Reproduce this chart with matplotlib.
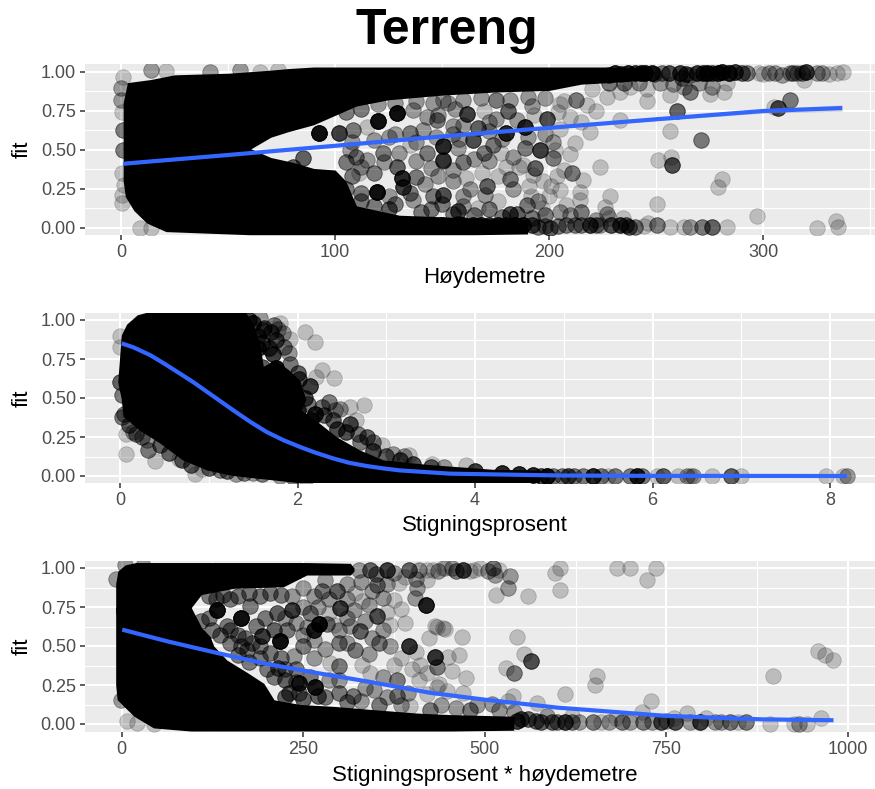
import matplotlib
matplotlib.use("Agg")
import numpy as np
import matplotlib.pyplot as plt

plt.rcParams["font.family"] = ["Liberation Sans", "DejaVu Sans"]

W, H = 875, 789

# --- panel 1: Hoydemetre ---
x_ticks1 = [0, 100, 200, 300]
x_minor1 = [50, 150, 250, 350]
line1_x = [1, 50, 100, 150, 200, 250, 300, 337]
line1_y = [0.41, 0.466, 0.525, 0.585, 0.64, 0.695, 0.748, 0.767]
band1_se = [0.008, 0.005, 0.004, 0.004, 0.006, 0.009, 0.014, 0.02]
# black cloud: top band and bottom band
top1_x = [1, 3, 14, 25, 50, 60, 70, 78, 90, 100, 110, 125, 150, 175, 200, 215, 228, 245]
top1_hi = [0.8, 0.93, 0.95, 0.98, 0.99, 1.0, 1.01, 1.02, 1.03, 1.03, 1.03, 1.03, 1.03, 1.03, 1.03, 1.03, 1.03, 1.02]
top1_lo = [0.5, 0.5, 0.5, 0.5, 0.5, 0.5, 0.58, 0.615, 0.66, 0.72, 0.78, 0.82, 0.85, 0.87, 0.88, 0.92, 0.93, 0.95]
bot1_x = [1, 2, 6, 12, 21, 60, 70, 80, 90, 100, 105, 110, 130, 150, 165, 190]
bot1_hi = [0.51, 0.51, 0.51, 0.51, 0.51, 0.51, 0.45, 0.42, 0.38, 0.37, 0.3, 0.14, 0.08, 0.07, 0.06, 0.05]
bot1_lo = [0.3, 0.2, 0.11, 0.03, -0.025, -0.045, -0.045, -0.045, -0.045, -0.045, -0.045, -0.045, -0.045, -0.045, -0.045, -0.04]
# (x, y, overlap count)
pts1 = [
    (337.5, 0.996, 1), (334.5, 0.99, 1), (327.5, 0.99, 2), (320, 1.0, 6), (319, 0.95, 1), (316, 0.99, 2),
    (312.6, 0.99, 2), (309, 0.98, 2), (305.6, 0.99, 2), (298, 0.99, 1), (292.6, 0.99, 3), (287, 0.995, 6),
    (281, 0.995, 8), (276, 0.99, 5), (272, 0.99, 6), (266, 0.98, 2), (261, 0.99, 6), (253, 0.99, 3),
    (249, 0.985, 3), (245, 0.99, 8), (240, 0.99, 6), (233.6, 0.985, 6), (228, 0.98, 4), (312.6, 0.82, 3),
    (307, 0.77, 5), (305, 0.775, 1), (282, 0.87, 1), (275, 0.86, 1), (266, 0.87, 3), (263, 0.9, 2),
    (256.6, 0.85, 1), (245.7, 0.89, 1), (246, 0.81, 1), (260, 0.75, 4), (233, 0.69, 1), (256.6, 0.62, 1),
    (271, 0.56, 3), (219, 0.615, 1), (212, 0.545, 1), (202, 0.55, 2), (202, 0.445, 3), (251, 0.434, 1),
    (257, 0.455, 1), (257.5, 0.40, 5), (224, 0.39, 1), (281, 0.31, 1), (279, 0.26, 1), (228.5, 0.2, 1),
    (250.6, 0.15, 1), (297, 0.075, 1), (334, 0.04, 1), (325, 0.0, 1), (335, 0.005, 1), (283, 0.005, 1),
    (276, 0.005, 4), (271.5, 0.005, 3), (266, 0.005, 2), (263, 0.005, 1), (256.6, 0.005, 1), (250.7, 0.02, 3),
    (246.4, 0.03, 1), (244.6, 0.01, 1), (237.6, 0.005, 4), (233, 0.015, 6), (234.5, 0.06, 1), (219, 0.015, 6),
    (226, 0.135, 1), (227, 0.09, 2), (224, 0.02, 2), (212, 0.02, 3), (208, 0.02, 3), (200.5, 0.0, 4),
    (195, 0.005, 3), (188, 0.02, 8), (180, 0.02, 6), (172, 0.02, 6), (164.7, 0.02, 8), (157.7, 0.025, 6),
    (195.8, 0.5, 6), (189, 0.647, 8), (199, 0.695, 5), (180, 0.605, 8), (167, 0.64, 4), (161.8, 0.73, 6),
    (164.7, 0.56, 5), (150.6, 0.525, 8), (175, 0.82, 3), (181, 0.745, 4), (169.5, 0.745, 1), (212.8, 0.82, 3),
    (217.6, 0.785, 1), (206.8, 0.81, 1), (227, 0.84, 1), (233, 0.87, 1), (220, 0.89, 1), (157.7, 0.51, 2),
    (174, 0.53, 3), (177.8, 0.477, 1), (169.4, 0.477, 3), (189, 0.51, 3), (150.6, 0.43, 3), (193.6, 0.38, 4),
    (185.8, 0.39, 1), (180, 0.39, 1), (206.8, 0.37, 1), (210.7, 0.35, 3), (216, 0.305, 1), (203.7, 0.33, 1),
    (201, 0.27, 1), (214.7, 0.23, 1), (214.7, 0.18, 1), (200, 0.205, 1), (207.8, 0.145, 1), (190.8, 0.267, 1),
    (192.7, 0.34, 1), (181.7, 0.315, 3), (171, 0.27, 4), (161, 0.316, 1), (168.6, 0.35, 1), (150.6, 0.21, 5),
    (157.7, 0.11, 5), (181.7, 0.09, 5), (185, 0.09, 4), (166.8, 0.124, 1), (189.7, 0.145, 3), (196.6, 0.124, 1),
    (191.7, 0.2, 1), (215, 0.1, 3), (120, 0.684, 12), (129, 0.733, 12), (119.5, 0.23, 12), (131.5, 0.316, 8),
    (132, 0.263, 6), (92.7, 0.605, 12), (102, 0.605, 6), (141, 0.626, 2), (115, 0.647, 1), (108.6, 0.626, 3),
    (122.6, 0.476, 3), (128.8, 0.39, 4), (115, 0.434, 2), (111, 0.348, 1), (118, 0.348, 3), (138, 0.327, 3),
    (146, 0.2, 3), (142.8, 0.476, 3), (135, 0.605, 3), (147.5, 0.69, 3), (136.6, 0.754, 2), (150.6, 0.82, 2),
    (150.6, 0.434, 4), (142.8, 0.71, 2), (130, 0.476, 2), (136.6, 0.177, 2), (107, 0.5, 2), (85, 0.444, 4),
    (80.5, 0.39, 4), (125, 0.12, 4), (145, 0.12, 3), (155, 0.3, 2), (160, 0.42, 3), (155, 0.65, 2),
    (138, 0.55, 2), (125, 0.58, 2), (145, 0.38, 2), (128, 0.15, 3), (112, 0.22, 3), (160, 0.2, 2),
    (1, 0.968, 1), (0, 0.893, 2), (0, 0.818, 2), (0.3, 0.744, 1), (1, 0.626, 3), (1, 0.498, 3),
    (0.3, 0.348, 1), (1.4, 0.274, 1), (0.3, 0.21, 1), (0.3, 0.156, 1), (9, 0, 1), (14, 0, 1),
    (14, 1.01, 2), (21, 1.006, 1), (55.6, 1.01, 2), (65, 1.0, 1), (73.5, 1.01, 1), (41.6, 1.0, 2),
]
extra1 = [
    (105, 0.74, 3), (112, 0.76, 3), (120, 0.79, 2), (128, 0.8, 2), (138, 0.81, 2), (146, 0.8, 2), (153, 0.8, 2),
    (160, 0.82, 2), (168, 0.83, 2), (182, 0.82, 2), (190, 0.84, 2), (198, 0.83, 2), (108, 0.55, 2), (118, 0.56, 2),
    (128, 0.6, 2), (135, 0.53, 1), (147, 0.58, 2), (155, 0.6, 2), (160, 0.66, 2), (172, 0.68, 2), (185, 0.69, 2),
    (193, 0.72, 1), (204, 0.74, 1), (210, 0.71, 1), (110, 0.45, 3), (105, 0.42, 3), (112, 0.39, 2), (108, 0.33, 3),
    (105, 0.25, 3), (112, 0.17, 3), (118, 0.14, 3), (125, 0.2, 2), (135, 0.22, 3), (142, 0.28, 2), (148, 0.33, 2),
    (155, 0.37, 2), (163, 0.25, 2), (170, 0.21, 2), (176, 0.17, 1), (150, 0.15, 3), (160, 0.14, 2), (172, 0.12, 3),
    (140, 0.1, 3), (155, 0.09, 3), (138, 0.43, 2), (123, 0.42, 2), (172, 0.43, 2), (183, 0.45, 2), (188, 0.4, 1),
    (165, 0.44, 2), (178, 0.57, 2), (190, 0.58, 2), (198, 0.6, 2), (205, 0.63, 1), (172, 0.62, 2), (158, 0.57, 2),
    (148, 0.72, 2), (156, 0.76, 2), (175, 0.7, 2), (192, 0.78, 2), (205, 0.79, 1), (222, 0.75, 1), (215, 0.68, 1),
    (203, 0.5, 1), (210, 0.47, 1), (183, 0.25, 2), (176, 0.33, 1), (197, 0.3, 1), (205, 0.24, 1), (195, 0.17, 2),
    (205, 0.1, 2), (198, 0.08, 3), (210, 0.08, 2), (165, 0.08, 3), (178, 0.07, 3), (192, 0.06, 3), (222, 0.05, 2),
    (228, 0.06, 1), (238, 0.9, 1), (242, 0.93, 2), (252, 0.93, 2), (258, 0.92, 2), (270, 0.93, 2), (276, 0.9, 2),
    (283, 0.93, 1), (262, 0.96, 3), (228, 0.93, 3), (235, 0.93, 3), (231, 0.99, 8), (237, 0.99, 8), (243, 0.99, 8),
    (248, 0.99, 8), (256, 0.99, 5), (264, 0.985, 5), (269, 0.99, 6), (274, 0.99, 8), (279, 0.99, 8), (284, 0.99, 8),
    (290, 0.99, 4), (303, 0.99, 2), (314, 0.99, 3), (318, 0.99, 3), (325, 0.99, 2), (331, 0.985, 1), (300, 0.985, 1),
    (150, 0.02, 8), (160, 0.02, 8), (168, 0.02, 8), (176, 0.02, 8), (184, 0.02, 8), (192, 0.02, 5), (198, 0.01, 3),
    (204, 0.01, 3), (215, 0.015, 3), (222, 0.015, 3), (229, 0.015, 5), (236, 0.015, 4), (240, 0.005, 3),
]

# --- panel 2: Stigningsprosent ---
x_ticks2 = [0, 2, 4, 6, 8]
x_minor2 = [1, 3, 5, 7]
line2_x = [0.02, 0.15, 0.34, 0.5, 0.68, 0.83, 0.98, 1.13, 1.28, 1.46, 1.65, 1.84, 2.03, 2.2, 2.4, 2.58, 2.78, 2.95, 3.15, 3.72, 5, 6, 8.19]
line2_y = [0.85, 0.825, 0.775, 0.72, 0.655, 0.6, 0.54, 0.48, 0.42, 0.35, 0.283, 0.23, 0.186, 0.15, 0.113, 0.085, 0.064, 0.05, 0.036, 0.015, 0.003, 0.001, 0.0]
# outline of the black cloud, clockwise from the left edge
mass2_x = [-0.02, 0.0, 0.02, 0.08, 0.2, 0.3, 1.42, 1.5, 1.58, 1.62, 1.75, 1.9, 2.03, 2.1, 2.05, 2.25, 2.44, 2.7, 2.97, 3.49, 4.2, 4.73,
           4.73, 2.0, 1.28, 0.98, 0.71, 0.45, 0.225, 0.04, 0.02, -0.02]
mass2_y = [0.6, 0.75, 0.9, 0.97, 1.03, 1.045, 1.045, 0.98, 0.85, 0.7, 0.74, 0.68, 0.61, 0.49, 0.42, 0.336, 0.25, 0.165, 0.1, 0.07, 0.04, 0.035,
           -0.045, -0.045, 0.0, 0.036, 0.10, 0.21, 0.29, 0.38, 0.49, 0.6]
pts2 = [
    (2.08, 0.92, 1), (2.2, 0.86, 1), (2.28, 0.68, 1), (2.21, 0.636, 1), (2.41, 0.63, 1), (2.35, 0.475, 3),
    (2.75, 0.458, 1), (2.59, 0.44, 1), (2.48, 0.43, 2), (2.2, 0.4, 8), (2.59, 0.336, 5), (2.66, 0.36, 1),
    (2.78, 0.25, 4), (2.7, 0.22, 3), (2.95, 0.197, 1), (3.08, 0.143, 2), (3.26, 0.137, 1), (3.51, 0.08, 1),
    (1.91, 0.88, 1), (1.84, 0.914, 2), (1.73, 0.968, 3), (1.58, 1.01, 2), (1.9, 0.786, 2), (1.76, 0.87, 5),
    (1.61, 0.936, 4), (1.76, 0.69, 10), (2.14, 0.58, 6), (1.78, 0.94, 2), (1.68, 0.82, 5), (1.85, 0.62, 8),
    (1.95, 0.55, 8), (2.02, 0.62, 5), (1.66, 0.62, 6), (1.55, 0.82, 6), (1.55, 0.9, 5), (1.45, 1.0, 6),
    (2.12, 0.46, 3), (2.3, 0.39, 4), (2.15, 0.36, 6), (0, 0.9, 1), (0, 0.83, 1), (0.02, 0.38, 3),
    (0.02, 0.52, 3), (0.07, 0.143, 1), (0.07, 0.27, 1), (0.15, 0.28, 2), (0.3, 0.23, 2), (0.32, 0.165, 3),
    (0.39, 0.096, 1), (0.66, 0.11, 1), (0.84, 0.015, 1), (0.92, 0.047, 1), (1.13, 0.036, 3), (1.31, 0.015, 2),
    (1.5, 0.02, 2), (1.8, 0.0, 2), (2.1, -0.01, 2), (3.9, 0.07, 1), (8.19, 0.0, 2), (8.15, 0.0, 1), (7.96, 0.0, 1),
    (7.0, 0.0, 1), (6.89, 0.0, 4), (6.67, 0.0, 1), (6.46, 0.0, 2), (6.42, 0.0, 1), (6.39, 0.0, 2), (6.29, 0.0, 1),
    (6.12, 0.0, 4), (6.05, 0.0, 1), (5.88, 0.0, 3), (5.82, 0.0, 8), (5.75, 0.0, 3), (5.58, 0.0, 3), (5.5, 0.0, 1),
    (5.42, 0.0, 3), (5.33, 0.0, 8), (5.22, 0.0, 3), (5.11, 0.0, 3), (5.05, 0.0, 5), (4.98, 0.0, 3), (4.88, 0.0, 3),
    (4.81, 0.0, 10), (4.74, 0.0, 5),
]
extra2 = [
    (1.5, 0.75, 5), (1.6, 0.85, 5), (1.7, 0.92, 4), (1.72, 0.78, 6), (1.85, 0.83, 3), (1.62, 0.95, 4), (1.5, 0.98, 6),
    (1.8, 0.98, 1), (1.92, 0.72, 3), (2.0, 0.66, 4), (1.6, 0.7, 4), (1.9, 0.48, 6), (2.0, 0.42, 6), (2.08, 0.5, 5),
    (2.28, 0.44, 3), (2.42, 0.42, 2), (2.45, 0.3, 5), (2.55, 0.28, 5), (2.68, 0.27, 3), (2.4, 0.36, 4), (2.85, 0.22, 3),
    (2.85, 0.16, 5), (3.0, 0.13, 4), (3.15, 0.1, 5), (3.3, 0.08, 5), (3.5, 0.06, 4), (3.65, 0.06, 2), (3.2, 0.13, 2),
    (0.0, 0.6, 4), (0.05, 0.4, 3), (0.1, 0.33, 4), (0.18, 0.27, 3), (0.25, 0.25, 3), (0.45, 0.2, 4), (0.55, 0.15, 4),
    (0.7, 0.1, 4), (0.8, 0.07, 4), (1.0, 0.05, 4), (1.2, 0.035, 4), (1.4, 0.02, 3), (1.6, 0.01, 3), (1.95, -0.005, 3),
    (4.0, 0.03, 6), (4.3, 0.02, 8), (4.5, 0.01, 8), (4.65, 0.005, 8),
]

# --- panel 3: Stigningsprosent * hoydemetre ---
x_ticks3 = [0, 250, 500, 750, 1000]
x_minor3 = [125, 375, 625, 875]
line3_x = [1, 63, 132, 200, 269, 338, 425, 500, 600, 750, 880, 980]
line3_y = [0.605, 0.53, 0.455, 0.385, 0.327, 0.273, 0.2, 0.156, 0.105, 0.052, 0.03, 0.024]
top3_x = [-8, -5, 5, 20, 90, 95, 110, 155, 223, 255, 315, 320]
top3_hi = [0.9, 0.98, 1.02, 1.035, 1.035, 1.035, 1.035, 1.035, 1.035, 1.035, 1.03, 1.0]
top3_lo = [0.7, 0.74, 0.74, 0.74, 0.74, 0.74, 0.83, 0.87, 0.88, 0.955, 0.955, 0.98]
bot3_x = [-8, -6, 17, 44, 95, 110, 122, 127, 145, 173, 196, 210, 246, 292, 352, 407, 453, 540]
bot3_hi = [0.75, 0.75, 0.75, 0.75, 0.755, 0.62, 0.56, 0.5, 0.41, 0.33, 0.26, 0.155, 0.125, 0.113, 0.09, 0.07, 0.06, 0.05]
bot3_lo = [0.25, 0.156, 0.05, -0.025, -0.045, -0.045, -0.045, -0.045, -0.045, -0.045, -0.045, -0.045, -0.045, -0.045, -0.045, -0.045, -0.045, -0.04]
pts3 = [
    (980, 0.412, 1), (968.5, 0.44, 1), (959, 0.466, 1), (897, 0.31, 1), (963, 0.04, 1), (943, 0.0, 1),
    (932, 0.0, 2), (925, 0.0, 1), (892, 0.0, 1), (736, 1.0, 1), (723, 0.92, 1), (700, 1.0, 1),
    (682, 1.0, 1), (603, 1.0, 1), (597, 0.97, 1), (604, 0.86, 1), (559.6, 0.82, 1), (534.6, 0.95, 2),
    (532, 0.87, 2), (516, 0.83, 1), (512, 1.0, 3), (514, 0.957, 2), (493, 1.0, 1), (470, 0.99, 6),
    (480, 0.98, 1), (445, 1.0, 1), (429, 0.99, 1), (455, 1.0, 2), (445, 0.61, 1), (434, 0.62, 1),
    (469, 0.56, 1), (545, 0.56, 1), (554.6, 0.45, 1), (564, 0.405, 5), (449, 0.43, 1), (431, 0.43, 4),
    (529, 0.36, 1), (540.6, 0.327, 3), (474, 0.295, 1), (655, 0.305, 1), (652, 0.25, 1), (610, 0.195, 1),
    (539, 0.18, 1), (532.6, 0.145, 1), (729, 0.145, 1), (571.5, 0.135, 1), (779, 0.07, 1), (716.7, 0.08, 1),
    (437, 0.256, 1), (447.6, 0.21, 1), (860, 0.01, 3), (849, 0.01, 1), (837, 0.01, 3), (825, 0.01, 2),
    (817, 0.01, 2), (805, 0.04, 1), (796, 0.01, 6), (782, 0.01, 2), (761.6, 0.015, 5), (750, 0.02, 2),
    (743, 0.015, 5), (718, 0.01, 3), (730, 0.01, 2), (700, 0.01, 2), (689, 0.01, 3), (670.6, 0.01, 2),
    (660, 0.01, 1), (649.5, 0.015, 3), (630, 0.01, 2), (620, 0.015, 3), (610, 0.01, 6), (600, 0.01, 3),
    (592, 0.01, 4), (578, 0.01, 4), (570, 0.02, 4), (560, 0.03, 4), (550, 0.03, 5), (545, 0.02, 6),
    (131.7, 0.733, 12), (163.8, 0.68, 12), (235, 0.73, 6), (193.6, 0.566, 6), (218.8, 0.53, 12), (271.6, 0.643, 12),
    (264.7, 0.6, 8), (283, 0.643, 3), (300.7, 0.744, 6), (351.8, 0.69, 5), (328, 0.594, 4), (395.4, 0.498, 7),
    (419.7, 0.765, 9), (354, 0.52, 3), (322, 0.476, 3), (299, 0.52, 3), (299, 0.37, 3), (244, 0.263, 8),
    (267, 0.235, 10), (319, 0.177, 3), (379, 0.177, 3), (379, 0.284, 3), (354, 0.124, 3), (432, 0.43, 3),
    (411.5, 0.38, 1), (434, 0.365, 3), (375, 0.38, 1), (342.7, 0.327, 1), (331, 0.38, 1), (287.6, 0.39, 1),
    (264.7, 0.42, 2), (237, 0.434, 2), (260, 0.71, 3), (292, 0.637, 1), (198, 0.68, 3), (214, 0.71, 4),
    (177.5, 0.754, 3), (150, 0.605, 3), (173, 0.476, 3), (205, 0.455, 3), (228, 0.605, 3), (276, 0.85, 3),
    (297, 0.85, 4), (322, 0.84, 1), (331, 0.786, 1), (352, 0.893, 3), (381.6, 0.904, 1), (407, 0.87, 2),
    (404.6, 0.81, 2), (375, 0.797, 1), (370, 0.637, 1), (423, 0.55, 1), (432, 0.626, 1), (443, 0.615, 1),
    (342.7, 0.99, 4), (365.6, 0.99, 6), (395.4, 0.99, 4), (326.6, 0.99, 2), (421, 0.99, 1), (443, 1.0, 1),
    (347, 0.22, 2), (397.7, 0.113, 1), (425, 0.09, 3), (434, 0.24, 1), (170, 0.55, 3), (190, 0.5, 3),
    (185, 0.63, 3), (210, 0.6, 4), (250, 0.5, 3), (240, 0.35, 3), (215, 0.36, 4), (225, 0.28, 4),
    (255, 0.62, 2), (310, 0.68, 2), (340, 0.45, 2), (360, 0.6, 2), (390, 0.65, 1), (300, 0.28, 2),
    (280, 0.17, 3), (230, 0.2, 4), (-1, 0.156, 2), (8, 0.017, 1), (21.6, 0.006, 1), (44.5, 0.0, 1),
    (5.5, 1.02, 2), (30, 1.01, 2), (-8, 0.93, 2),
]
extra3 = [
    (120, 0.82, 3), (130, 0.8, 3), (140, 0.83, 3), (150, 0.8, 3), (160, 0.82, 3), (175, 0.84, 3), (190, 0.82, 3),
    (205, 0.84, 3), (220, 0.83, 3), (235, 0.82, 2), (250, 0.87, 2), (265, 0.82, 2), (285, 0.8, 2), (310, 0.8, 2),
    (120, 0.68, 3), (110, 0.66, 3), (145, 0.63, 3), (135, 0.57, 3), (125, 0.6, 3), (160, 0.57, 3), (150, 0.52, 3),
    (165, 0.5, 3), (180, 0.52, 3), (160, 0.44, 3), (175, 0.4, 3), (190, 0.42, 3), (200, 0.35, 3), (210, 0.3, 3),
    (225, 0.35, 3), (220, 0.42, 3), (240, 0.27, 3), (245, 0.2, 3), (260, 0.3, 3), (225, 0.17, 4), (250, 0.16, 4),
    (270, 0.18, 4), (285, 0.28, 2), (300, 0.2, 3), (310, 0.14, 3), (330, 0.15, 2), (335, 0.23, 2), (360, 0.3, 2),
    (365, 0.17, 2), (385, 0.12, 2), (395, 0.2, 2), (410, 0.28, 1), (420, 0.19, 1), (440, 0.12, 2), (460, 0.1, 2),
    (420, 0.33, 1), (400, 0.35, 1), (385, 0.42, 1), (405, 0.46, 1), (370, 0.5, 2), (345, 0.55, 2), (335, 0.66, 2),
    (315, 0.63, 2), (300, 0.6, 2), (310, 0.52, 2), (280, 0.48, 2), (265, 0.54, 2), (250, 0.57, 2), (240, 0.65, 2),
    (225, 0.68, 2), (250, 0.75, 2), (270, 0.75, 2), (285, 0.71, 1), (320, 0.73, 2), (340, 0.76, 2), (365, 0.72, 1),
    (385, 0.74, 1), (360, 0.81, 2), (345, 0.85, 2), (310, 0.9, 2), (330, 0.91, 2), (280, 0.92, 2), (365, 0.9, 2),
    (390, 0.94, 1), (405, 0.93, 2), (420, 0.92, 1), (350, 0.96, 3), (375, 0.97, 2), (410, 0.99, 2), (435, 0.98, 2),
    (460, 0.98, 3), (485, 0.99, 1), (505, 0.98, 2), (520, 0.99, 1), (465, 0.44, 1), (455, 0.34, 1), (470, 0.2, 1),
    (490, 0.12, 2), (510, 0.13, 2), (480, 0.09, 3), (520, 0.09, 2), (540, 0.08, 2), (585, 0.05, 2), (620, 0.05, 1),
    (680, 0.04, 1), (760, 0.04, 1),
]

tick_y = [0, 0.25, 0.5, 0.75, 1]
minor_y = [0.125, 0.375, 0.625, 0.875]
y_labels = ["0.00", "0.25", "0.50", "0.75", "1.00"]

fig = plt.figure(figsize=(W / 100, H / 100), dpi=100)


def make_panel(left, right, top, bottom, x0_px, px_per_unit, y1_px, y0_px, xt, xm):
    ax = fig.add_axes([left / W, 1 - bottom / H, (right - left) / W, (bottom - top) / H])
    ax.set_xlim((left - x0_px) / px_per_unit, (right - x0_px) / px_per_unit)
    sc = y0_px - y1_px
    ax.set_ylim((y0_px - bottom) / sc, (y0_px - top) / sc)
    ax.set_facecolor("#EBEBEB")
    for s in ax.spines.values():
        s.set_visible(False)
    ax.set_xticks(xt)
    ax.set_xticks([m for m in xm if m < ax.get_xlim()[1]], minor=True)
    ax.set_yticks(tick_y)
    ax.set_yticklabels(y_labels)
    ax.set_yticks(minor_y, minor=True)
    ax.grid(True, which="major", color="white", lw=1.5)
    ax.grid(True, which="minor", color="white", lw=0.8)
    ax.set_axisbelow(True)
    ax.tick_params(which="major", length=3.5, width=1.1, color="#333333", labelcolor="#4D4D4D", labelsize=13, pad=3)
    ax.tick_params(which="minor", length=0)
    return ax


def draw_points(ax, pts):
    p = np.array(pts)
    n = p[:, 2].astype(int)
    ax.scatter(np.repeat(p[:, 0], n), np.repeat(p[:, 1], n), s=125, color="black", alpha=0.2, linewidths=0.6, zorder=3)


ax1 = make_panel(85, 875, 64, 235, 121, 2.14, 71.7, 227.7, x_ticks1, x_minor1)
ax1.fill_between(top1_x, top1_lo, top1_hi, color="black", lw=0, zorder=2)
ax1.fill_between(bot1_x, bot1_lo, bot1_hi, color="black", lw=0, zorder=2)
draw_points(ax1, pts1 + extra1)
ax1.fill_between(line1_x, np.array(line1_y) - np.array(band1_se), np.array(line1_y) + np.array(band1_se),
                 color="#999999", alpha=0.4, lw=0, zorder=4)
ax1.plot(line1_x, line1_y, color="#3366FF", lw=3, zorder=5, solid_capstyle="butt")

ax2 = make_panel(85, 875, 313, 483, 120, 88.75, 320, 476, x_ticks2, x_minor2)
ax2.fill(mass2_x, mass2_y, color="black", lw=0, zorder=2)
draw_points(ax2, pts2 + extra2)
ax2.plot(line2_x, line2_y, color="#3366FF", lw=3, zorder=5, solid_capstyle="butt")

ax3 = make_panel(85, 875, 561, 732, 121.5, 0.7265, 568, 724, x_ticks3, x_minor3)
ax3.fill_between(top3_x, top3_lo, top3_hi, color="black", lw=0, zorder=2)
ax3.fill_between(bot3_x, bot3_lo, bot3_hi, color="black", lw=0, zorder=2)
draw_points(ax3, pts3 + extra3)
ax3.plot(line3_x, line3_y, color="#3366FF", lw=3, zorder=5, solid_capstyle="butt")

# labels placed by pixel position
fig.text(447 / W, 1 - 31 / H, "Terreng", fontsize=36, fontweight="bold", ha="center", va="center", color="black")
for label, ypx in [("Høydemetre", 278), ("Stigningsprosent", 525), ("Stigningsprosent * høydemetre", 775)]:
    fig.text(484.5 / W, 1 - ypx / H, label, fontsize=16, ha="center", va="center", color="black")
for ypx in [149, 398, 646]:
    fig.text(22 / W, 1 - ypx / H, "fit", fontsize=16, rotation=90, ha="center", va="center", color="black")

fig.savefig("out.png", dpi=100)
